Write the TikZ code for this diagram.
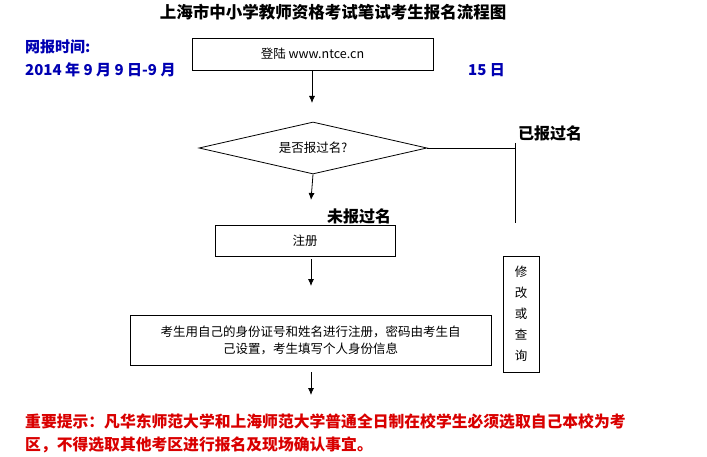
\documentclass[tikz,border=0pt]{standalone}
\usepackage{fontspec}
\setmainfont{Noto Sans CJK SC}
\usetikzlibrary{shapes.geometric,arrows.meta}
\tikzstyle{box}=[rectangle,draw=black,thick,inner sep=0pt,anchor=center,font=\fontsize{12.5}{17}\selectfont]
\tikzstyle{annot}=[align=left,anchor=west,inner sep=0pt]
\tikzstyle{flow}=[thick,-{Latex[length=7pt,width=6pt]}]
\begin{document}
\begin{tikzpicture}[x=1pt,y=-1pt]
	\useasboundingbox (0,0) rectangle (707,457);
	\node[font=\fontsize{16.5}{18}\selectfont\bfseries] (title) at (333,12) {上海市中小学教师资格考试笔试考生报名流程图};
	\node[annot,text=blue!70!black,font=\fontsize{15}{17}\selectfont\bfseries] (time) at (25,47) {网报时间:};
	\node[annot,text=blue!70!black,font=\fontsize{15}{17}\selectfont\bfseries] (date) at (25,70) {2014 年 9 月 9 日-9 月};
	\node[annot,text=blue!70!black,font=\fontsize{15}{17}\selectfont\bfseries] (day) at (468,70) {15 日};

	\node[box, minimum width=241, minimum height=32] (login) at (312.5,54) {登陆 www.ntce.cn};
	\node[diamond, draw=black, thick, aspect=4.4, minimum width=228, minimum height=52, inner sep=0pt, font=\fontsize{12.5}{14}\selectfont] (ask) at (313,148) {是否报过名?};
	\node[box, minimum width=180, minimum height=31] (reg) at (305,240.5) {注册};
	\node[box, minimum width=361, minimum height=50, align=center] (info) at (310.5,340) {考生用自己的身份证号和姓名进行注册，密码由考生自\\己设置，考生填写个人身份信息};
	\node[box, minimum width=36, minimum height=116, align=center, font=\fontsize{12.5}{21}\selectfont] (edit) at (521,314) {修\\改\\或\\查\\询};

	\coordinate (corner) at (515,148);
	\coordinate (stop) at (515,223);
	\coordinate (a1) at (312,103);
	\coordinate (a2) at (311,200);
	\coordinate (a3) at (311,286);
	\coordinate (a4) at (311,395);

	\draw[flow] (login.south -| a1) -- (a1);
	\draw[flow] (ask.south) -- (a2);
	\draw[flow] (reg.south -| a3) ++(0,3) -- (a3);
	\draw[flow] (info.south -| a4) ++(0,7) -- (a4);
	\draw[thick] (ask.east) -- (corner) -- (stop);
	\draw[thick] (corner) ++(0,-5) -- (corner);

	\node[annot,font=\fontsize{16}{18}\selectfont\bfseries] (done) at (518,133) {已报过名};
	\node[annot,font=\fontsize{16}{18}\selectfont\bfseries] (notdone) at (327,216) {未报过名};

	\node[annot,text=red!85!black,font=\fontsize{15.8}{17}\selectfont\bfseries] (tip1) at (25,422) {重要提示：凡华东师范大学和上海师范大学普通全日制在校学生必须选取自己本校为考};
	\node[annot,text=red!85!black,font=\fontsize{15.8}{17}\selectfont\bfseries] (tip2) at (25,445) {区，不得选取其他考区进行报名及现场确认事宜。};
\end{tikzpicture}
\end{document}
